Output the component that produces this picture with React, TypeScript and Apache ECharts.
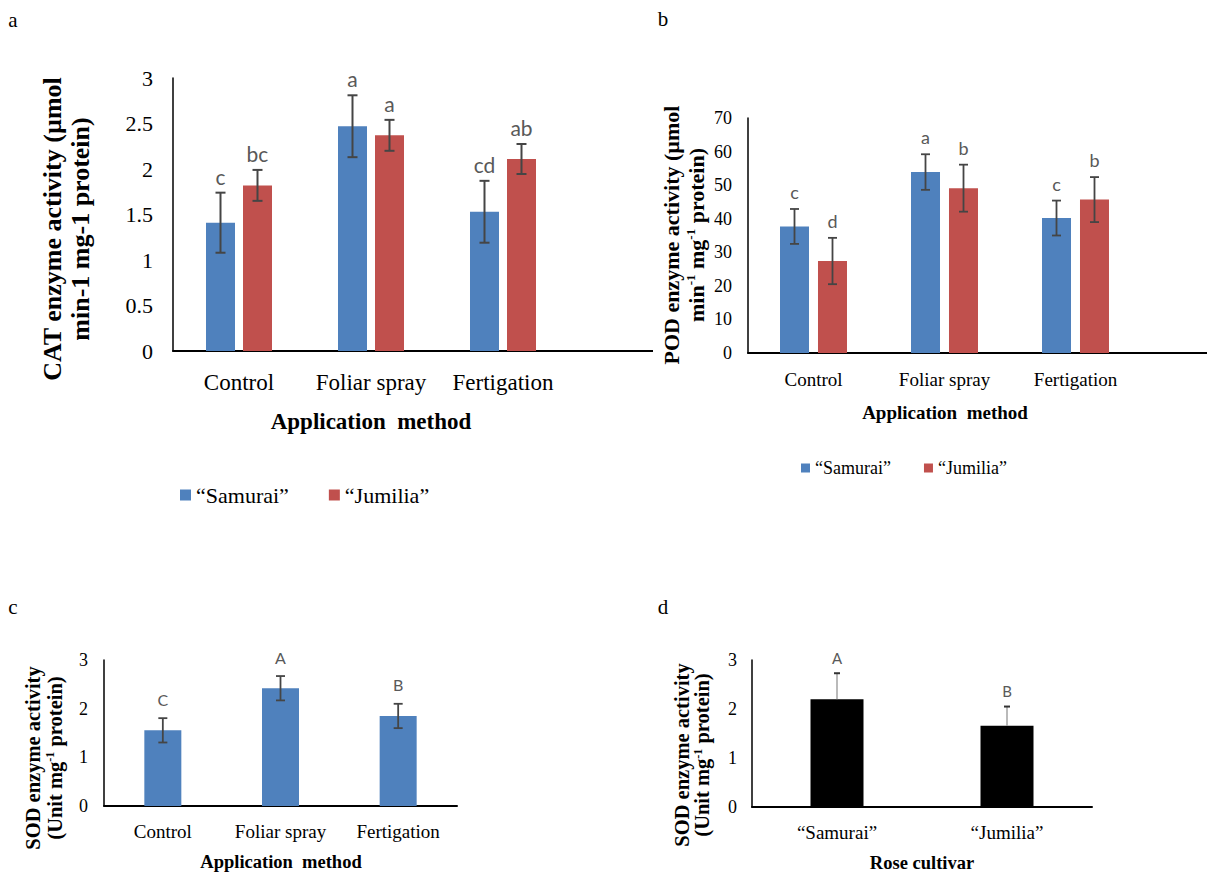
import React, { useEffect, useRef } from "react";
import * as echarts from "echarts";

// ---------- data ----------
const METHODS = ["Control", "Foliar spray", "Fertigation"];
const CULTIVARS = ["“Samurai”", "“Jumilia”"];
const SERIES_NAMES = ["“Samurai”", "“Jumilia”"];

// a: CAT
const CAT_SAMURAI = [1.41, 2.47, 1.53];
const CAT_SAMURAI_ERR = [0.33, 0.34, 0.34];
const CAT_SAMURAI_LETTERS = ["c", "a", "cd"];
const CAT_JUMILIA = [1.82, 2.37, 2.11];
const CAT_JUMILIA_ERR = [0.17, 0.17, 0.165];
const CAT_JUMILIA_LETTERS = ["bc", "a", "ab"];

// b: POD
const POD_SAMURAI = [37.7, 53.9, 40.2];
const POD_SAMURAI_ERR = [5.2, 5.3, 5.2];
const POD_SAMURAI_LETTERS = ["c", "a", "c"];
const POD_JUMILIA = [27.4, 49.1, 45.7];
const POD_JUMILIA_ERR = [6.9, 7.0, 6.7];
const POD_JUMILIA_LETTERS = ["d", "b", "b"];

// c: SOD by method
const SOD_METHOD = [1.555, 2.42, 1.85];
const SOD_METHOD_ERR = [0.25, 0.25, 0.25];
const SOD_METHOD_LETTERS = ["C", "A", "B"];

// d: SOD by cultivar
const SOD_CULTIVAR = [2.2, 1.66];
const SOD_CULTIVAR_ERR = [0.53, 0.39];
const SOD_CULTIVAR_LETTERS = ["A", "B"];

// ---------- style ----------
const SERIF = "'Liberation Serif', 'Times New Roman', serif";
const SANS = "Lato, 'Open Sans', sans-serif";
const BLUE = "#4F81BD";
const RED = "#C0504D";
const ERR = "#454545";
const LETTER = "#595959";

type ErrOpts = {
  offset: number;
  cap: number;
  stemColor: string;
  stemWidth: number;
  capColor: string;
  capWidth: number;
  plusOnly: boolean;
  labelGap: number;
  labelSize: number;
};

function errorSeries(
  name: string,
  axisIndex: number,
  values: number[],
  errs: number[],
  letters: string[],
  o: ErrOpts
) {
  return {
    type: "custom",
    name,
    xAxisIndex: axisIndex,
    yAxisIndex: axisIndex,
    silent: true,
    z: 5,
    encode: { x: 0, y: 1 },
    data: values.map((v, i) => [i, v, errs[i]]),
    renderItem: (params: any, api: any) => {
      const i = api.value(0);
      const v = api.value(1);
      const e = api.value(2);
      const base = api.coord([i, v]);
      const x = base[0] + o.offset;
      const yTop = api.coord([i, v + e])[1];
      const yBot = o.plusOnly ? base[1] : api.coord([i, v - e])[1];
      const h = o.cap / 2;
      const children: any[] = [
        {
          type: "line",
          shape: { x1: x, y1: yTop, x2: x, y2: yBot },
          style: { stroke: o.stemColor, lineWidth: o.stemWidth },
        },
        {
          type: "line",
          shape: { x1: x - h, y1: yTop, x2: x + h, y2: yTop },
          style: { stroke: o.capColor, lineWidth: o.capWidth },
        },
      ];
      if (!o.plusOnly) {
        children.push({
          type: "line",
          shape: { x1: x - h, y1: yBot, x2: x + h, y2: yBot },
          style: { stroke: o.capColor, lineWidth: o.capWidth },
        });
      }
      children.push({
        type: "text",
        x,
        y: yTop - o.labelGap,
        style: {
          text: letters[params.dataIndex],
          fill: LETTER,
          fontSize: o.labelSize,
          fontFamily: SANS,
          align: "center",
          textAlign: "center",
          verticalAlign: "bottom",
          textVerticalAlign: "bottom",
        },
      });
      return { type: "group", children };
    },
  };
}

function catAxis(gridIndex: number, data: string[], fontSize: number, margin: number) {
  return {
    type: "category",
    gridIndex,
    data,
    boundaryGap: true,
    axisLine: { show: true, lineStyle: { color: "#000", width: 2 } },
    axisTick: { show: false },
    axisLabel: { color: "#000", fontFamily: SERIF, fontSize, margin, interval: 0 },
    splitLine: { show: false },
  };
}

function valAxis(gridIndex: number, max: number, interval: number, fontSize: number, margin: number) {
  return {
    type: "value",
    gridIndex,
    min: 0,
    max,
    interval,
    axisLine: { show: true, lineStyle: { color: "#000", width: 1.5 } },
    axisTick: { show: false },
    splitLine: { show: false },
    axisLabel: { color: "#000", fontFamily: SERIF, fontSize, margin },
  };
}

function txt(x: number, y: number, text: string, fontSize: number, bold: boolean, extra: any = {}) {
  return {
    type: "text",
    x,
    y,
    silent: true,
    style: {
      text,
      fill: "#000",
      fontSize,
      fontWeight: bold ? "bold" : "normal",
      fontFamily: SERIF,
      align: "center",
      textAlign: "center",
      verticalAlign: "middle",
      textVerticalAlign: "middle",
      ...extra,
    },
  };
}

function yName(x: number, y: number, text: string, fontSize: number, lineHeight: number, supSize: number) {
  const t: any = txt(x, y, text, fontSize, true, {
    lineHeight,
    rich: {
      sup: {
        fontSize: supSize,
        fontWeight: "bold",
        fontFamily: SERIF,
        fill: "#000",
        verticalAlign: "top",
        lineHeight,
      },
    },
  });
  t.rotation = Math.PI / 2;
  return t;
}

export default function App() {
  const ref = useRef<HTMLDivElement>(null);

  useEffect(() => {
    if (!ref.current) return;
    const chart = echarts.init(ref.current, null, { renderer: "svg" });

    const aOpts = (offset: number): ErrOpts => ({
      offset, cap: 10, stemColor: ERR, stemWidth: 2, capColor: ERR, capWidth: 2,
      plusOnly: false, labelGap: 6, labelSize: 21,
    });
    const bOpts = (offset: number): ErrOpts => ({
      offset, cap: 9, stemColor: ERR, stemWidth: 1.8, capColor: ERR, capWidth: 1.8,
      plusOnly: false, labelGap: 8, labelSize: 18,
    });

    const option: any = {
      animation: false,
      backgroundColor: "#fff",
      grid: [
        { left: 173, top: 78, width: 396, height: 273, containLabel: false },
        { left: 748, top: 118, width: 393, height: 235, containLabel: false },
        { left: 104, top: 660, width: 353, height: 146, containLabel: false },
        { left: 752, top: 660, width: 340, height: 147, containLabel: false },
      ],
      xAxis: [
        catAxis(0, METHODS, 23, 20),
        catAxis(1, METHODS, 19, 17),
        catAxis(2, METHODS, 19, 16),
        catAxis(3, CULTIVARS, 19, 16),
      ],
      yAxis: [
        valAxis(0, 3, 0.5, 22, 20),
        valAxis(1, 70, 10, 18, 16),
        valAxis(2, 3, 1, 18, 16),
        valAxis(3, 3, 1, 18, 15),
      ],
      legend: [
        {
          left: 175, top: 479, icon: "rect", itemWidth: 11, itemHeight: 11, itemGap: 40,
          textStyle: { fontFamily: SERIF, fontSize: 22, color: "#000" },
          data: SERIES_NAMES, selectedMode: false,
        },
        {
          left: 796, top: 454, icon: "rect", itemWidth: 9, itemHeight: 9, itemGap: 33,
          textStyle: { fontFamily: SERIF, fontSize: 18, color: "#000" },
          data: SERIES_NAMES, selectedMode: false,
        },
      ],
      series: [
        // a
        { type: "bar", name: SERIES_NAMES[0], xAxisIndex: 0, yAxisIndex: 0, data: CAT_SAMURAI, barWidth: 29, barGap: "27.6%", itemStyle: { color: BLUE } },
        { type: "bar", name: SERIES_NAMES[1], xAxisIndex: 0, yAxisIndex: 0, data: CAT_JUMILIA, barWidth: 29, barGap: "27.6%", itemStyle: { color: RED } },
        errorSeries("errA1", 0, CAT_SAMURAI, CAT_SAMURAI_ERR, CAT_SAMURAI_LETTERS, aOpts(-18.5)),
        errorSeries("errA2", 0, CAT_JUMILIA, CAT_JUMILIA_ERR, CAT_JUMILIA_LETTERS, aOpts(18.5)),
        // b
        { type: "bar", name: SERIES_NAMES[0], xAxisIndex: 1, yAxisIndex: 1, data: POD_SAMURAI, barWidth: 29, barGap: "31%", itemStyle: { color: BLUE } },
        { type: "bar", name: SERIES_NAMES[1], xAxisIndex: 1, yAxisIndex: 1, data: POD_JUMILIA, barWidth: 29, barGap: "31%", itemStyle: { color: RED } },
        errorSeries("errB1", 1, POD_SAMURAI, POD_SAMURAI_ERR, POD_SAMURAI_LETTERS, bOpts(-19)),
        errorSeries("errB2", 1, POD_JUMILIA, POD_JUMILIA_ERR, POD_JUMILIA_LETTERS, bOpts(19)),
        // c
        { type: "bar", name: "SODm", xAxisIndex: 2, yAxisIndex: 2, data: SOD_METHOD, barWidth: 37, itemStyle: { color: BLUE } },
        errorSeries("errC", 2, SOD_METHOD, SOD_METHOD_ERR, SOD_METHOD_LETTERS, {
          offset: 0, cap: 9, stemColor: ERR, stemWidth: 1.8, capColor: ERR, capWidth: 1.8,
          plusOnly: false, labelGap: 11, labelSize: 16,
        }),
        // d
        { type: "bar", name: "SODc", xAxisIndex: 3, yAxisIndex: 3, data: SOD_CULTIVAR, barWidth: 53, itemStyle: { color: "#000" } },
        errorSeries("errD", 3, SOD_CULTIVAR, SOD_CULTIVAR_ERR, SOD_CULTIVAR_LETTERS, {
          offset: 0, cap: 6, stemColor: "#8c8c8c", stemWidth: 1.2, capColor: "#333", capWidth: 2,
          plusOnly: true, labelGap: 8, labelSize: 15,
        }),
      ],
      graphic: [
        // panel letters
        txt(13, 20, "a", 21, false),
        txt(663, 19, "b", 21, false),
        txt(13, 607, "c", 21, false),
        txt(663, 607, "d", 21, false),
        // x-axis line extensions (as in the reference figure)
        { type: "line", silent: true, shape: { x1: 560, y1: 351, x2: 653, y2: 351 }, style: { stroke: "#000", lineWidth: 2 } },
        { type: "line", silent: true, shape: { x1: 1130, y1: 353, x2: 1207, y2: 353 }, style: { stroke: "#000", lineWidth: 2 } },
        // x-axis titles
        txt(371, 421, "Application  method", 23, true),
        txt(945, 412, "Application  method", 19, true),
        txt(281, 862, "Application  method", 18.5, true),
        txt(922, 863, "Rose cultivar", 18.5, true),
        // y-axis titles
        yName(66, 229, "CAT enzyme activity (µmol\nmin-1 mg-1 protein)", 26, 28, 15),
        yName(684, 235, "POD enzyme activity (µmol\nmin{sup|-1} mg{sup|-1} protein)", 22, 25, 13),
        yName(44, 758, "SOD enzyme activity\n(Unit mg{sup|-1} protein)", 20.5, 22, 12),
        yName(692, 755, "SOD enzyme activity\n(Unit mg{sup|-1} protein)", 20.5, 20, 12),
      ],
    };

    chart.setOption(option);
    return () => chart.dispose();
  }, []);

  return (
    <div
      ref={ref}
      style={{ position: "absolute", left: 0, top: 0, width: 1207, height: 875, background: "#fff" }}
    />
  );
}
